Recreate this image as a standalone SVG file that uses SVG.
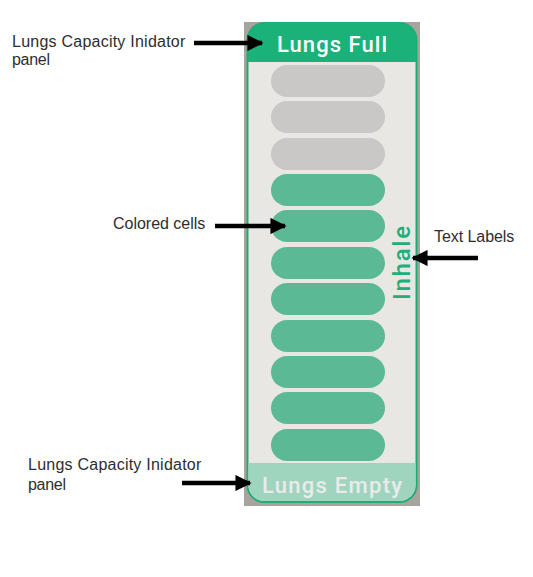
<svg xmlns="http://www.w3.org/2000/svg" width="533" height="577" viewBox="0 0 533 577">
<style>
.lbl{font-family:"Liberation Sans",Arial,sans-serif;font-size:16px;fill:#2e2e2e;letter-spacing:-0.3px}
.hdr{font-family:Roboto,"Liberation Sans",sans-serif;font-size:22px;font-weight:500;text-anchor:middle}
.cell-off{fill:#c9c8c6}
.cell-on{fill:#5cb996}
.arrow{stroke:#000;stroke-width:4.5;fill:none}
</style>
<defs>
<marker id="ah" viewBox="0 0 10 10" refX="9" refY="5" markerWidth="4" markerHeight="3.6" orient="auto" markerUnits="strokeWidth">
<path d="M0,0 L10,5 L0,10 z" fill="#000"/>
</marker>
</defs>
<rect width="533" height="577" fill="#fff"/>
<g id="panel">
<rect x="244" y="22" width="176" height="484" fill="#a9a39e"/>
<rect x="247.5" y="23" width="169" height="479" rx="17" fill="#e9e7e4" stroke="#1fae78" stroke-width="2"/>
<path d="M247.5,62 V40 A17,17 0 0 1 264.5,23 H399.5 A17,17 0 0 1 416.5,40 V62 Z" fill="#1bb27a"/>
<path d="M248.5,463 V485 A16,16 0 0 0 264.5,501 H399.5 A16,16 0 0 0 415.5,485 V463 Z" fill="#9fd5bf"/>
<text class="hdr" x="332" y="52" fill="#ffffff" textLength="110">Lungs Full</text>
<text class="hdr" x="332" y="493" fill="#eaeaea" textLength="140">Lungs Empty</text>
<text x="410" y="263" transform="rotate(-90 410 263)" text-anchor="middle" font-family="Roboto,'Liberation Sans',sans-serif" font-size="24" font-weight="500" fill="#22ae78" textLength="74">Inhale</text>
</g>
<g id="cells">
<rect class="cell-off" x="271" y="65" width="114" height="32" rx="16"/>
<rect class="cell-off" x="271" y="101" width="114" height="32" rx="16"/>
<rect class="cell-off" x="271" y="138" width="114" height="32" rx="16"/>
<rect class="cell-on" x="271" y="174" width="114" height="32" rx="16"/>
<rect class="cell-on" x="271" y="210" width="114" height="32" rx="16"/>
<rect class="cell-on" x="271" y="247" width="114" height="32" rx="16"/>
<rect class="cell-on" x="271" y="283" width="114" height="32" rx="16"/>
<rect class="cell-on" x="271" y="320" width="114" height="32" rx="16"/>
<rect class="cell-on" x="271" y="356" width="114" height="32" rx="16"/>
<rect class="cell-on" x="271" y="392" width="114" height="32" rx="16"/>
<rect class="cell-on" x="271" y="429" width="114" height="32" rx="16"/>
</g>
<g id="labels">
<text class="lbl" x="12" y="47" textLength="173">Lungs Capacity Inidator</text>
<text class="lbl" x="12" y="65">panel</text>
<text class="lbl" x="113" y="229" textLength="92">Colored cells</text>
<text class="lbl" x="434" y="242" textLength="80">Text Labels</text>
<text class="lbl" x="28" y="470" textLength="173">Lungs Capacity Inidator</text>
<text class="lbl" x="28" y="490">panel</text>
</g>
<g id="connectors">
<line class="arrow" x1="194" y1="43" x2="262" y2="43" marker-end="url(#ah)"/>
<line class="arrow" x1="215" y1="226" x2="285" y2="226" marker-end="url(#ah)"/>
<line class="arrow" x1="478" y1="258" x2="413" y2="258" marker-end="url(#ah)"/>
<line class="arrow" x1="182" y1="483" x2="250" y2="483" marker-end="url(#ah)"/>
</g>
</svg>
